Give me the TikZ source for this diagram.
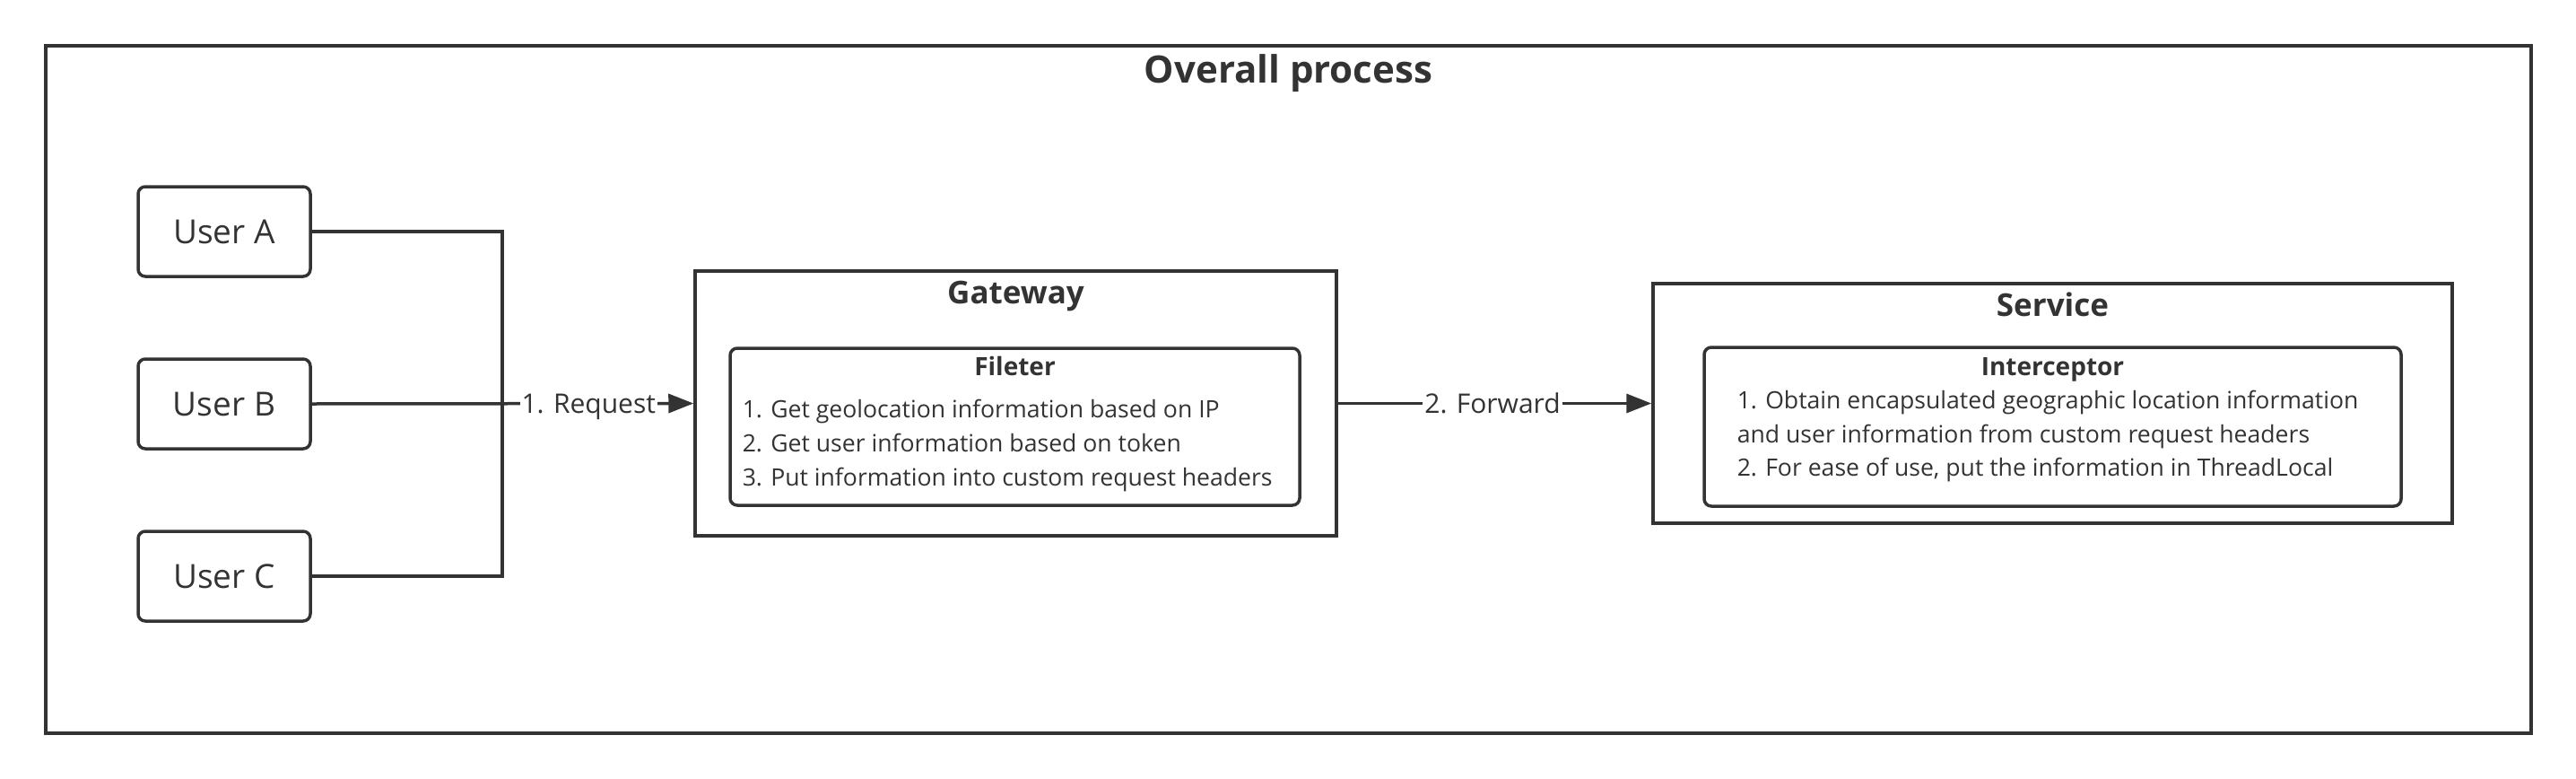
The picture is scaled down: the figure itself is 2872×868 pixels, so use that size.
\documentclass[tikz,border=0pt]{standalone}
\usepackage{fontspec}
\setmainfont{Open Sans}
\usetikzlibrary{positioning,arrows.meta}
\definecolor{ink}{HTML}{333333}

\begin{document}
\begin{tikzpicture}[x=0.5pt,y=-0.5pt,color=ink,line width=1.75pt,
	usr/.style={draw, rounded corners=4pt, minimum width=96pt, minimum height=50pt, font=\fontsize{18.5}{22}\selectfont},
	pane/.style={draw},
	card/.style={draw, rounded corners=4pt},
	head/.style={anchor=base, inner sep=0pt, font=\bfseries\fontsize{17.5}{20}\selectfont},
	subhead/.style={anchor=base, inner sep=0pt, font=\bfseries\fontsize{14}{17}\selectfont},
	item/.style={anchor=base west, inner sep=0pt, font=\fontsize{13.3}{16}\selectfont},
	lbl/.style={fill=white, inner xsep=1pt, inner ysep=1pt, text depth=0pt, font=\fontsize{15}{18}\selectfont},
	tip/.style={-{Triangle[length=14pt,width=10.5pt]}}]
	\useasboundingbox (0,0) rectangle (2872,868);
	
	% overall frame
	\node[pane, minimum width=1385.5pt, minimum height=383pt] (all) at (1436.5,434) {};
	\node[head, font=\bfseries\fontsize{21}{24}\selectfont] (allttl) at (1436.5,92) {Overall process};
	
	% users
	\node[usr] (ua) at (250,258) {User A};
	\node[usr] (ub) at (250,450) {User B};
	\node[usr] (uc) at (250,642) {User C};
	\coordinate (jn) at (560,450);
	
	% gateway
	\node[pane, minimum width=357.5pt, minimum height=147.5pt] (gw) at (1132.5,449.5) {};
	\node[head] (gwttl) at (1132.5,338) {Gateway};
	\node[card, minimum width=317.5pt, minimum height=87.5pt] (fl) at (1131.5,475.5) {};
	\node[subhead] (flttl) at (1131.5,418) {Fileter};
	\node[item] (fl1) at (826,465) {1. Get geolocation information based on IP};
	\node[item] (fl2) at (826,503) {2. Get user information based on token};
	\node[item] (fl3) at (826,541) {3. Put information into custom request headers};
	
	% service
	\node[pane, minimum width=445.5pt, minimum height=133.5pt] (sv) at (2288.5,449.5) {};
	\node[head] (svttl) at (2288.5,352) {Service};
	\node[card, minimum width=388.5pt, minimum height=88.5pt] (ic) at (2288.5,475.5) {};
	\node[subhead] (icttl) at (2288.5,418) {Interceptor};
	\node[item] (ic1) at (1935,455) {1. Obtain encapsulated geographic location information};
	\node[item] (ic2) at (1935,493) {and user information from custom request headers};
	\node[item] (ic3) at (1935,530) {2. For ease of use, put the information in ThreadLocal};
	
	% connectors
	\draw (ua.east) -| (jn) |- (uc.east);
	\draw[tip] (ub.east) -- node[lbl, pos=0.725] {1. Request} (gw.west);
	\draw[tip] (gw.east) -- node[lbl, pos=0.493] {2. Forward} (sv.west);
\end{tikzpicture}
\end{document}
